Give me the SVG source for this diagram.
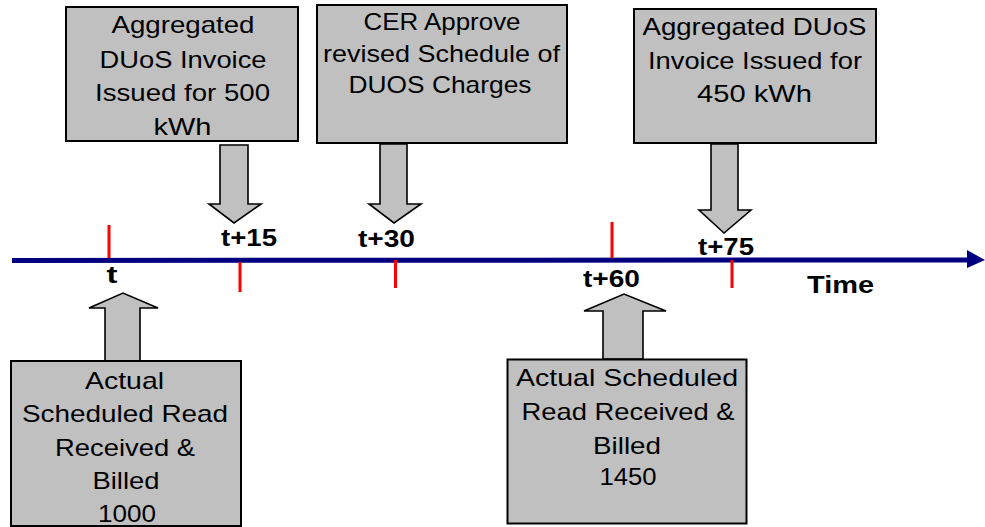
<svg xmlns="http://www.w3.org/2000/svg" width="985" height="527" viewBox="0 0 985 527">
<style>
.box{fill:#c0c0c0;stroke:#000;stroke-width:2}
.arr{fill:#c0c0c0;stroke:#000;stroke-width:1.6;stroke-linejoin:miter}
.txt{font-family:"Liberation Sans",Arial,sans-serif;font-size:24px;fill:#000;text-anchor:middle}
.lbl{font-family:"Liberation Sans",Arial,sans-serif;font-size:23px;font-weight:bold;fill:#000;text-anchor:middle}
.tick{stroke:#ff0000;stroke-width:3}
</style>
<rect width="985" height="527" fill="#fff"/>
<g id="connectors">
<line x1="12" y1="260.5" x2="970" y2="260" stroke="#000080" stroke-width="5"/>
<polygon points="967,250 985,260 967,268" fill="#000080"/>
<line class="tick" x1="109" y1="225" x2="109" y2="258"/>
<line class="tick" x1="240" y1="262" x2="240" y2="292"/>
<line class="tick" x1="395.5" y1="260" x2="395.5" y2="288"/>
<line class="tick" x1="612" y1="222" x2="612" y2="258"/>
<line class="tick" x1="732" y1="260" x2="732" y2="288"/>
<polygon class="arr" points="220,145 248,145 248,204 261,204 234,223 209,204 220,204"/>
<polygon class="arr" points="380,144 407,144 407,204 421,204 394,223 369,204 380,204"/>
<polygon class="arr" points="711,144 738,144 738,210 751,210 724,233 699,210 711,210"/>
<polygon class="arr" points="105,361 140,361 140,308 158,308 123,293 89,308 105,308"/>
<polygon class="arr" points="603,359 643,359 643,311 666,311 624,294 584,311 603,311"/>
</g>
<g id="labels">
<text class="lbl" x="112" y="283" textLength="11" lengthAdjust="spacingAndGlyphs">t</text>
<text class="lbl" x="249" y="246" textLength="56" lengthAdjust="spacingAndGlyphs">t+15</text>
<text class="lbl" x="386.5" y="246.5" textLength="57" lengthAdjust="spacingAndGlyphs">t+30</text>
<text class="lbl" x="611.5" y="287" textLength="57" lengthAdjust="spacingAndGlyphs">t+60</text>
<text class="lbl" x="726" y="255" textLength="56" lengthAdjust="spacingAndGlyphs">t+75</text>
<text class="lbl" x="840.5" y="293" textLength="67" lengthAdjust="spacingAndGlyphs">Time</text>
</g>
<g id="node1">
<rect class="box" x="66" y="7" width="232" height="134"/>
<text class="txt" x="183" y="33" textLength="143" lengthAdjust="spacingAndGlyphs">Aggregated</text>
<text class="txt" x="183" y="67.5" textLength="167" lengthAdjust="spacingAndGlyphs">DUoS Invoice</text>
<text class="txt" x="182.5" y="100.5" textLength="175" lengthAdjust="spacingAndGlyphs">Issued for 500</text>
<text class="txt" x="182.5" y="135" textLength="58" lengthAdjust="spacingAndGlyphs">kWh</text>
</g>
<g id="node2">
<rect class="box" x="317" y="5" width="250" height="138"/>
<text class="txt" x="442" y="30" textLength="157" lengthAdjust="spacingAndGlyphs">CER Approve</text>
<text class="txt" x="441.5" y="61.5" textLength="237" lengthAdjust="spacingAndGlyphs">revised Schedule of</text>
<text class="txt" x="440" y="92.5" textLength="183" lengthAdjust="spacingAndGlyphs">DUOS Charges</text>
</g>
<g id="node3">
<rect class="box" x="634" y="9" width="242" height="134"/>
<text class="txt" x="754.5" y="35" textLength="224" lengthAdjust="spacingAndGlyphs">Aggregated DUoS</text>
<text class="txt" x="755" y="68.5" textLength="214" lengthAdjust="spacingAndGlyphs">Invoice Issued for</text>
<text class="txt" x="754.5" y="101.5" textLength="115" lengthAdjust="spacingAndGlyphs">450 kWh</text>
</g>
<g id="node4">
<rect class="box" x="11" y="361" width="230" height="165"/>
<text class="txt" x="124.5" y="389" textLength="79" lengthAdjust="spacingAndGlyphs">Actual</text>
<text class="txt" x="125" y="421.5" textLength="206" lengthAdjust="spacingAndGlyphs">Scheduled Read</text>
<text class="txt" x="125" y="455.5" textLength="140" lengthAdjust="spacingAndGlyphs">Received &amp;</text>
<text class="txt" x="126" y="488.5" textLength="67" lengthAdjust="spacingAndGlyphs">Billed</text>
<text class="txt" x="127" y="521.5" textLength="58" lengthAdjust="spacingAndGlyphs">1000</text>
</g>
<g id="node5">
<rect class="box" x="507.5" y="359.5" width="239" height="164"/>
<text class="txt" x="627" y="386" textLength="222" lengthAdjust="spacingAndGlyphs">Actual Scheduled</text>
<text class="txt" x="628" y="419.5" textLength="213" lengthAdjust="spacingAndGlyphs">Read Received &amp;</text>
<text class="txt" x="627" y="453.5" textLength="68" lengthAdjust="spacingAndGlyphs">Billed</text>
<text class="txt" x="628" y="485" textLength="57" lengthAdjust="spacingAndGlyphs">1450</text>
</g>
</svg>
